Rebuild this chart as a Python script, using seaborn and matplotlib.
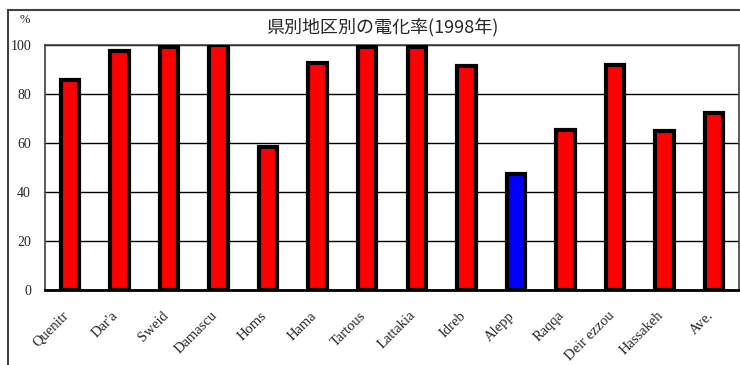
import matplotlib
matplotlib.use('Agg')
import matplotlib.pyplot as plt
import matplotlib.patches as mpatches
from matplotlib.transforms import ScaledTranslation
import seaborn as sns
import pandas as pd

regions = ['Quenitra', "Dar'a", 'Sweida', 'Damascus', 'Homs', 'Hama', 'Tartous',
           'Lattakia', 'Idreb', 'Aleppo', 'Raqqa', 'Deir ezzour', 'Hassakeh', 'Ave.']
# labels as they show in the chart (clipped by the label box)
shown_labels = ['Quenitr', "Dar'a", 'Sweid', 'Damascu', 'Homs', 'Hama', 'Tartous',
                'Lattakia', 'Idreb', 'Alepp', 'Raqqa', 'Deir ezzou', 'Hassakeh', 'Ave.']
rate = [85.7, 97.6, 99.2, 99.9, 58.4, 92.8, 99.2, 99.1, 91.3, 47.2, 65.4, 92.0, 64.9, 72.2]
bar_colors = ['#ff0000'] * 9 + ['#0000ff'] + ['#ff0000'] * 4

df = pd.DataFrame({'Region': regions, 'Rate': rate})

sns.set_theme(style='white')
plt.rcParams['font.family'] = ['Liberation Serif', 'Noto Sans CJK JP']

fig = plt.figure(figsize=(7.4, 3.65), dpi=100)
ax = fig.add_axes([45 / 740, 75 / 365, 694 / 740, 245 / 365])

sns.barplot(data=df, x='Region', y='Rate', hue='Region', palette=bar_colors,
            legend=False, width=0.37, edgecolor='black', linewidth=3, saturation=1,
            ax=ax, zorder=3)

ax.set_xlim(-0.5, len(regions) - 0.5)
ax.set_ylim(0, 100)
ax.set_yticks([0, 20, 40, 60, 80, 100])
ax.yaxis.grid(True, color='black', linewidth=1)
ax.set_axisbelow(True)
ax.set_xlabel('')
ax.set_ylabel('')

for s in ax.spines.values():
    s.set_color('#404040')
    s.set_linewidth(1.2)
ax.spines['bottom'].set_color('black')
ax.spines['bottom'].set_linewidth(2)

ax.tick_params(axis='y', labelsize=10, length=0, pad=10)
ax.set_xticks(range(len(regions)))
ax.set_xticklabels(shown_labels, rotation=45, ha='right', va='center',
                   rotation_mode='anchor', fontsize=10.5)
ax.tick_params(axis='x', length=0, pad=17)
ax.set_xticks([i + 0.5 for i in range(len(regions) - 1)], minor=True)
ax.tick_params(axis='x', which='minor', direction='in', length=4, width=1, color='black')
shift = ScaledTranslation(-3 / 100, 0, fig.dpi_scale_trans)
for lbl in ax.get_xticklabels():
    lbl.set_transform(lbl.get_transform() + shift)

fig.text(25 / 740, 1 - 20 / 365, '%', fontsize=9, ha='center', va='center')
fig.text(382 / 740, 1 - 27 / 365, '県別地区別の電化率(1998年)', fontsize=13,
         ha='center', va='center', family=['Noto Sans CJK JP', 'DejaVu Sans'])

# outer chart frame
fig.patches.append(mpatches.Rectangle((7.5 / 740, -0.1), 1.0, 1 - 10 / 365 + 0.1,
                                      transform=fig.transFigure, fill=False,
                                      edgecolor='#404040', linewidth=1.5))

fig.savefig('out.png', dpi=100)
